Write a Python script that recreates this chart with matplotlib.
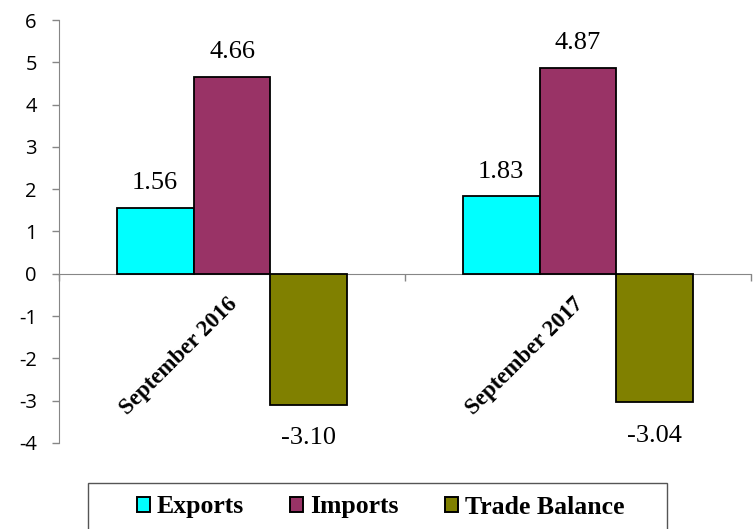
"""
Trade figures: exports, imports and trade balance, September 2016 vs 2017.
"""

import numpy as np
import matplotlib
matplotlib.use("Agg")
import matplotlib.pyplot as plt
from matplotlib.patches import Patch, Rectangle
from matplotlib.transforms import offset_copy


# ---------- data ----------
periods = ["September 2016", "September 2017"]
series_names = ["Exports", "Imports", "Trade Balance"]
exports = [1.56, 1.83]
imports = [4.66, 4.87]
trade_balance = [-3.10, -3.04]
series_values = [exports, imports, trade_balance]
colors = ["#00FFFF", "#993366", "#808000"]
y_ticks = [-4, -3, -2, -1, 0, 1, 2, 3, 4, 5, 6]

SERIF = ["Liberation Serif", "DejaVu Serif"]
SANS = ["Open Sans", "DejaVu Sans"]
AXIS_GREY = "#868686"


# ---------- figure ----------
fig = plt.figure(figsize=(7.55, 5.29), dpi=100)
ax = fig.add_axes([59 / 755, 1 - 443 / 529, 692 / 755, 423 / 529])

x = np.arange(len(periods))
bar_w = 0.6667 / 3
offsets = [-bar_w, 0, bar_w]

for name, vals, col, off in zip(series_names, series_values, colors, offsets):
    bars = ax.bar(x + off, vals, width=bar_w, color=col, edgecolor="black",
                  linewidth=1.3, label=name, zorder=3)
    for b, v in zip(bars, vals):
        cx = b.get_x() + b.get_width() / 2
        if v >= 0:
            ax.annotate(f"{v:.2f}", (cx, v), xytext=(0, 10), textcoords="offset points",
                        ha="center", va="bottom", fontsize=19, family=SERIF)
        else:
            ax.annotate(f"{v:.2f}", (cx, v), xytext=(0, -16), textcoords="offset points",
                        ha="center", va="top", fontsize=19, family=SERIF)

ax.set_xlim(-0.5, len(periods) - 0.5)
ax.set_ylim(-4, 6)
ax.set_yticks(y_ticks)
ax.set_yticklabels([str(t) for t in y_ticks], family=SANS, fontsize=14.5)
ax.tick_params(axis="y", direction="out", length=5, width=1, color=AXIS_GREY, pad=11)

# x axis sits on zero, ticks at category boundaries
ax.spines["bottom"].set_position(("data", 0))
ax.spines["top"].set_visible(False)
ax.spines["right"].set_visible(False)
ax.spines["left"].set_color(AXIS_GREY)
ax.spines["bottom"].set_color(AXIS_GREY)
ax.set_xticks(np.arange(-0.5, len(periods), 1.0))
ax.set_xticklabels([])
ax.tick_params(axis="x", direction="out", length=5, width=1, color=AXIS_GREY)
ax.patch.set_alpha(0)

# rotated category labels below the zero line
lab_tr = offset_copy(ax.transData, fig=fig, x=-4, y=-14, units="points")
for i, p in enumerate(periods):
    ax.text(i, 0, p, transform=lab_tr, rotation=45, rotation_mode="anchor",
            ha="right", va="top", fontsize=16.5, fontweight="bold", family=SERIF)

# legend box (runs off the bottom edge)
fig.patches.append(Rectangle((88 / 755, -0.05), 579 / 755, 0.05 + 46 / 529,
                             transform=fig.transFigure, fill=False,
                             edgecolor="#555555", linewidth=1.0))
handles = [Patch(facecolor=c, edgecolor="black", linewidth=1.4) for c in colors]
fig.legend(handles, series_names, loc="center left",
           bbox_to_anchor=(137 / 755, 1 - 507 / 529), ncol=3, frameon=False,
           prop={"family": SERIF, "weight": "bold", "size": 18.5},
           handlelength=0.5, handleheight=0.5, handletextpad=0.27,
           columnspacing=1.8, borderpad=0, borderaxespad=0)

fig.savefig("out.png", dpi=100)
plt.close(fig)
